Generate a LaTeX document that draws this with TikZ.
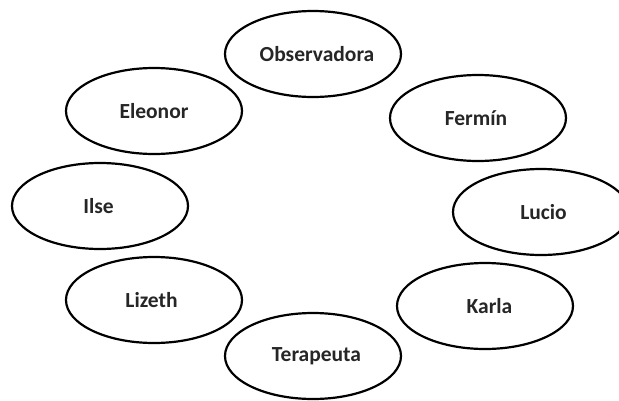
\documentclass[tikz,border=0pt]{standalone}
\usepackage{fontspec}
\setmainfont{Carlito}
\usetikzlibrary{shapes.geometric}
\begin{document}
\begin{tikzpicture}[x=1pt,y=-1pt,
  member/.style={ellipse, draw=black, line width=2.2pt, fill=white,
    minimum width=176pt, minimum height=86pt, inner sep=0pt,
    font=\fontsize{21.5}{25}\selectfont\bfseries, text=black!85}]
  \useasboundingbox (0,0) rectangle (619,400);
  \fill[white] (0,0) rectangle (619,400);
  \node[member] (obs) at (313,54)  {\hspace*{8pt}Observadora};
  \node[member] (ele) at (154,111) {Eleonor};
  \node[member] (fer) at (478,118) {Fermín\hspace*{4pt}};
  \node[member] (ils) at (100,206) {Ilse\hspace*{3pt}};
  \node[member] (luc) at (541,212) {\hspace*{5pt}Lucio};
  \node[member] (liz) at (154,300) {Lizeth\hspace*{5pt}};
  \node[member] (kar) at (485,306) {\hspace*{9pt}Karla};
  \node[member] (ter) at (313,356) {\hspace*{7pt}Terapeuta};
\end{tikzpicture}
\end{document}
